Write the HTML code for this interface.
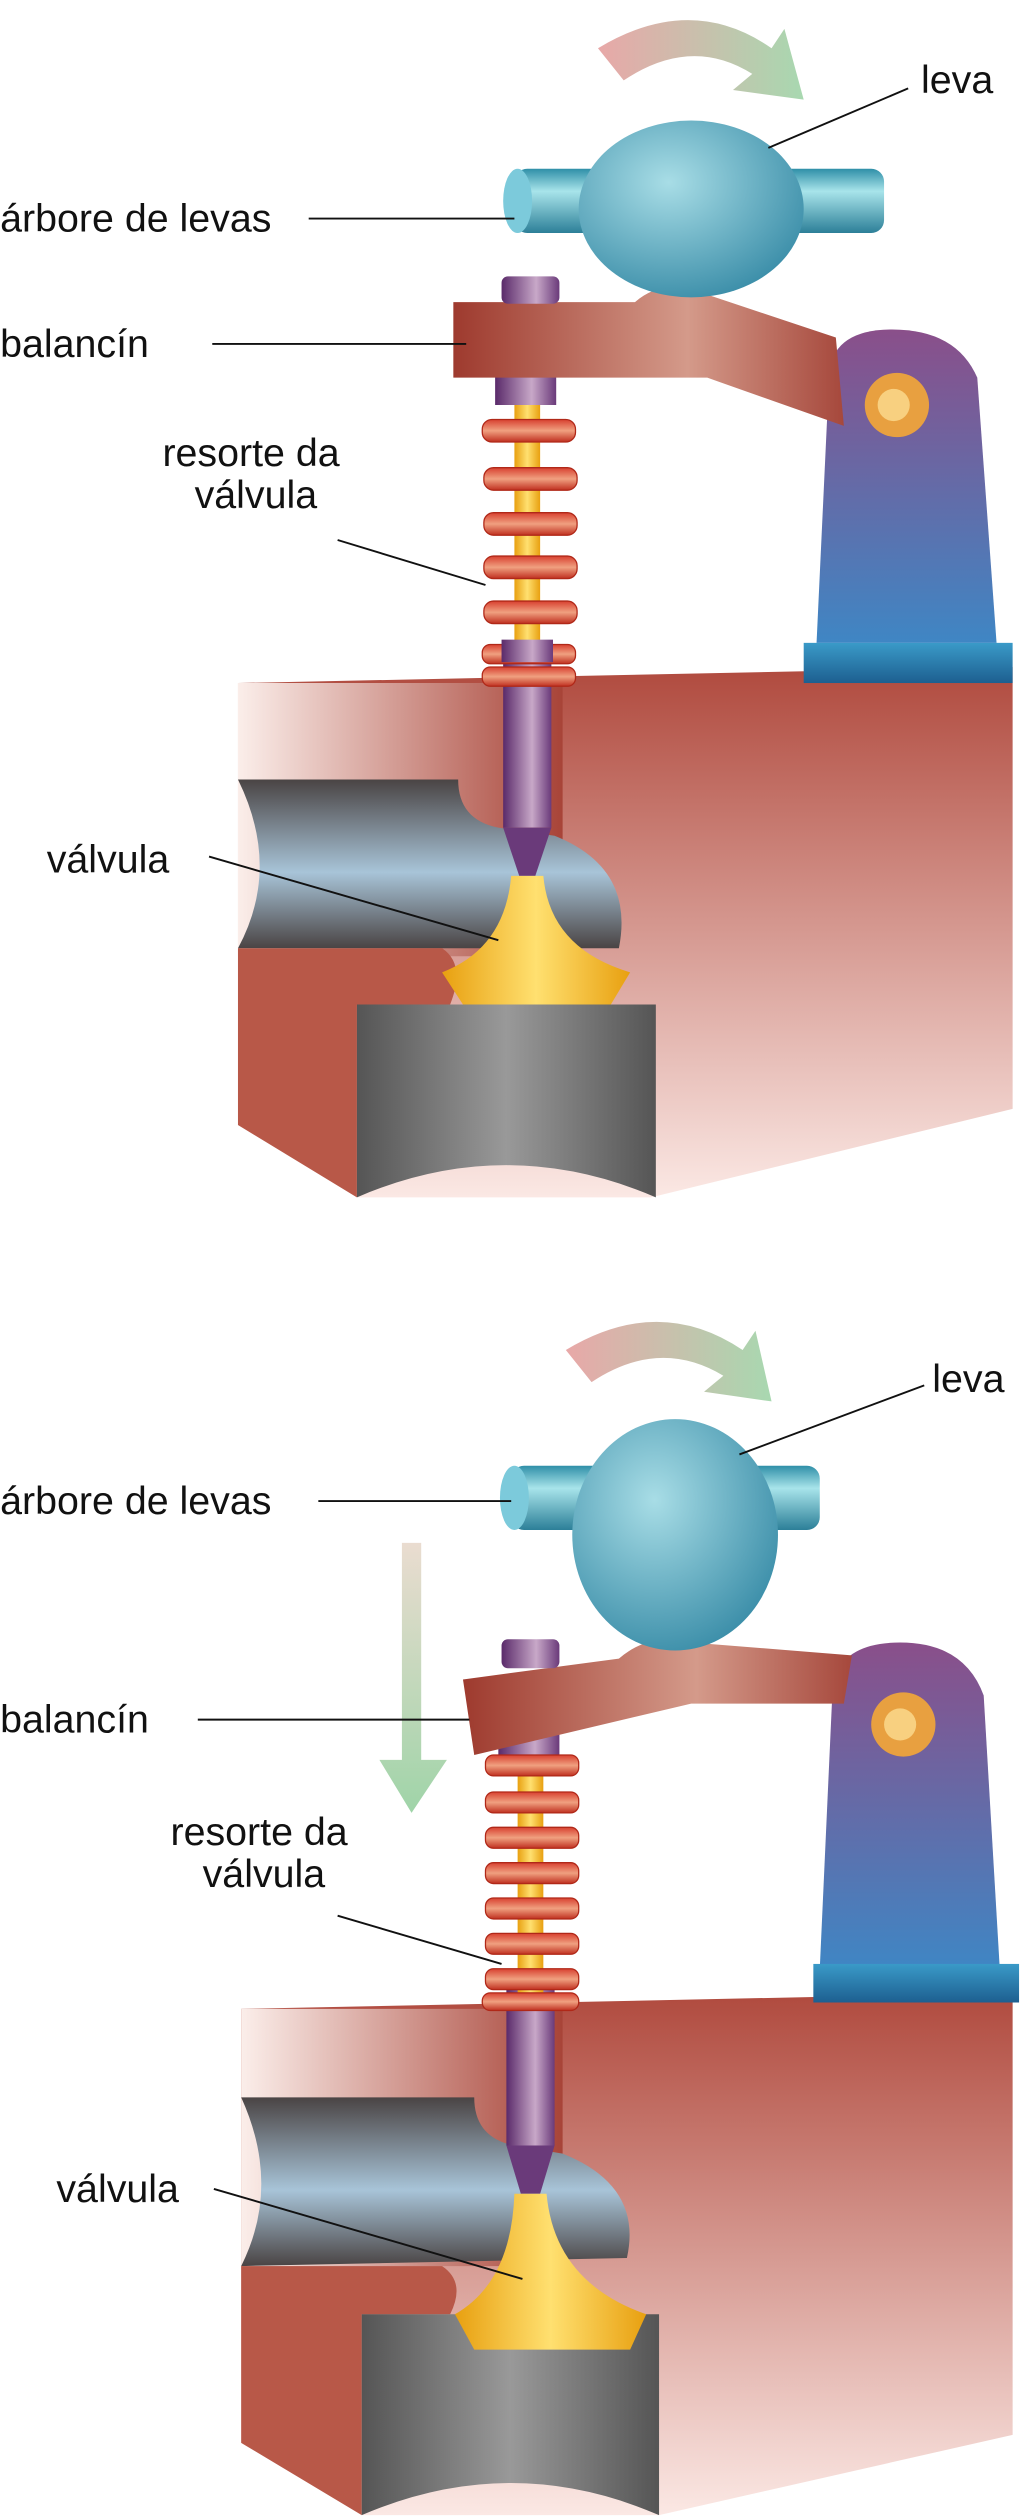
<!DOCTYPE html>
<html><head><meta charset="utf-8"><style>
html,body{margin:0;padding:0;background:#fff;}
svg{display:block}
text{font-family:"Liberation Sans",sans-serif;font-size:24.5px;fill:#111}
</style></head><body>
<svg width="1024" height="2520" viewBox="0 0 637 1568" xmlns="http://www.w3.org/2000/svg">
<defs>
<linearGradient id="arr" x1="0" x2="1"><stop offset="0" stop-color="#e8a8a8"/><stop offset="1" stop-color="#a8d8b0"/></linearGradient>
<linearGradient id="arrv" x1="0" y1="0" x2="0" y2="1"><stop offset="0" stop-color="#eadcd0"/><stop offset="1" stop-color="#9fd4a8"/></linearGradient>
<linearGradient id="cyl" x1="0" y1="0" x2="0" y2="1"><stop offset="0" stop-color="#2f8fa8"/><stop offset="0.35" stop-color="#a8e4ea"/><stop offset="1" stop-color="#2c7f98"/></linearGradient>
<radialGradient id="cam" cx="0.4" cy="0.35" r="0.7"><stop offset="0" stop-color="#a8dde6"/><stop offset="1" stop-color="#3a8da8"/></radialGradient>
<linearGradient id="rock" x1="0" x2="1"><stop offset="0" stop-color="#9e3a2e"/><stop offset="0.6" stop-color="#d49a8a"/><stop offset="1" stop-color="#a6483c"/></linearGradient>
<linearGradient id="brk" x1="0" y1="0" x2="0" y2="1"><stop offset="0" stop-color="#8a4f8a"/><stop offset="1" stop-color="#3f86c4"/></linearGradient>
<linearGradient id="stem" x1="0" x2="1"><stop offset="0" stop-color="#5a2a6a"/><stop offset="0.6" stop-color="#c8a8c8"/><stop offset="1" stop-color="#6a3a7a"/></linearGradient>
<linearGradient id="gold" x1="0" x2="1"><stop offset="0" stop-color="#e8a010"/><stop offset="0.5" stop-color="#ffe070"/><stop offset="1" stop-color="#e8a010"/></linearGradient>
<linearGradient id="coil" x1="0" y1="0" x2="0" y2="1"><stop offset="0" stop-color="#d84030"/><stop offset="0.5" stop-color="#f0a080"/><stop offset="1" stop-color="#c03020"/></linearGradient>
<linearGradient id="blockL" x1="0" x2="1"><stop offset="0" stop-color="#fbeeea"/><stop offset="1" stop-color="#a84438"/></linearGradient>
<linearGradient id="blockR" x1="0" y1="0" x2="0" y2="1"><stop offset="0" stop-color="#b04a3e"/><stop offset="1" stop-color="#fbe8e4"/></linearGradient>
<linearGradient id="port" x1="0" y1="0" x2="0" y2="1"><stop offset="0" stop-color="#4a4444"/><stop offset="0.55" stop-color="#a8c4d8"/><stop offset="1" stop-color="#4a4444"/></linearGradient>
<linearGradient id="cylg" x1="0" x2="1"><stop offset="0" stop-color="#555"/><stop offset="0.5" stop-color="#999"/><stop offset="1" stop-color="#555"/></linearGradient>
<linearGradient id="base" x1="0" y1="0" x2="0" y2="1"><stop offset="0" stop-color="#3a9ac8"/><stop offset="1" stop-color="#1d5f90"/></linearGradient>
</defs>

<g>
<path d="M372,30 Q430,-5 480,30 L488,18 L500,62 L456,56 L468,46 Q430,22 388,50 Z" fill="url(#arr)"/>
<polygon points="148,425 630,415 630,690 405,745 222,745 148,700" fill="url(#blockR)"/>
<polygon points="148,425 350,425 350,595 148,595" fill="url(#blockL)"/>
<path d="M148,485 L285,485 Q285,510 310,515 L345,520 Q395,540 385,590 L148,590 Q175,540 148,485Z" fill="url(#port)"/>
<path d="M148,590 L275,590 Q290,600 280,625 L222,625 L222,745 L148,700Z" fill="#b85848"/>
<path d="M222,625 L408,625 L408,745 Q315,705 222,745Z" fill="url(#cylg)"/>
<rect x="313" y="400" width="30" height="115" fill="url(#stem)"/>
<polygon points="313,515 343,515 333,545 323,545" fill="#6a3a7a"/>
<path d="M318,545 L338,545 Q342,590 392,605 L380,625 L288,625 L275,605 Q314,590 318,545Z" fill="url(#gold)"/>
<rect x="320" y="250" width="16" height="160" fill="url(#gold)"/>
<rect x="308" y="230" width="38" height="22" fill="url(#stem)"/>
<g fill="url(#coil)" stroke="#b02818" stroke-width="0.8">
<rect x="300" y="261" width="58" height="14" rx="6"/><rect x="301" y="291" width="58" height="14" rx="6"/><rect x="301" y="319" width="58" height="14" rx="6"/><rect x="301" y="346" width="58" height="14" rx="6"/><rect x="301" y="374" width="58" height="14" rx="6"/><rect x="300" y="401" width="58" height="12" rx="5"/><rect x="300" y="415" width="58" height="12" rx="5"/>
</g>
<rect x="312" y="398" width="32" height="14" fill="url(#stem)"/>
<path d="M516,230 Q520,205 555,205 Q595,205 608,235 L620,400 L508,400Z" fill="url(#brk)"/>
<rect x="500" y="400" width="130" height="25" fill="url(#base)"/>
<circle cx="558" cy="252" r="20" fill="#e8a040"/><circle cx="556" cy="252" r="10" fill="#f8d080"/>
<path d="M282,188 L395,188 Q410,175 430,180 L520,210 L525,265 L440,235 L282,235Z" fill="url(#rock)"/>
<rect x="312" y="172" width="36" height="17" rx="4" fill="url(#stem)"/>
<rect x="320" y="105" width="230" height="40" rx="8" fill="url(#cyl)"/>
<ellipse cx="322" cy="125" rx="9" ry="20" fill="#7ccadb"/>
<ellipse cx="430" cy="130" rx="70" ry="55" fill="url(#cam)"/>
<text x="573" y="58">leva</text><line x1="565" y1="55" x2="478" y2="92" stroke="#111" stroke-width="1.2"/>
<text x="0" y="144">árbore de levas</text><line x1="192" y1="136" x2="320" y2="136" stroke="#111" stroke-width="1.2"/>
<text x="0" y="222">balancín</text><line x1="132" y1="214" x2="290" y2="214" stroke="#111" stroke-width="1.2"/>
<text x="101" y="290">resorte da</text><text x="121" y="316">válvula</text>
<line x1="210" y1="336" x2="302" y2="364" stroke="#111" stroke-width="1.2"/>
<text x="29" y="543">válvula</text><line x1="130" y1="533" x2="310" y2="585" stroke="#111" stroke-width="1.2"/>
</g>

<g>
<path d="M352,840 Q410,805 462,840 L470,828 L480,872 L438,866 L450,856 Q410,832 368,860 Z" fill="url(#arr)"/>
<polygon points="250,960 262,960 262,1095 278,1095 256,1128 236,1095 250,1095" fill="url(#arrv)"/>
<polygon points="150,1250 630,1240 630,1515 410,1565 225,1565 150,1520" fill="url(#blockR)"/>
<polygon points="150,1250 350,1250 350,1410 150,1410" fill="url(#blockL)"/>
<path d="M150,1305 L295,1305 Q295,1330 320,1335 L350,1340 Q400,1360 390,1405 L150,1410 Q175,1360 150,1305Z" fill="url(#port)"/>
<path d="M150,1410 L275,1410 Q290,1420 280,1440 L225,1440 L225,1565 L150,1520Z" fill="#b85848"/>
<path d="M225,1440 L410,1440 L410,1565 Q318,1525 225,1565Z" fill="url(#cylg)"/>
<rect x="315" y="1235" width="30" height="100" fill="url(#stem)"/>
<polygon points="315,1335 345,1335 336,1365 324,1365" fill="#6a3a7a"/>
<path d="M320,1365 L340,1365 Q345,1420 402,1440 L392,1462 L295,1462 L283,1440 Q318,1420 320,1365Z" fill="url(#gold)"/>
<rect x="322" y="1080" width="16" height="170" fill="url(#gold)"/>
<rect x="310" y="1075" width="38" height="20" fill="url(#stem)"/>
<g fill="url(#coil)" stroke="#b02818" stroke-width="0.8">
<rect x="302" y="1092" width="58" height="13" rx="5"/><rect x="302" y="1115" width="58" height="13" rx="5"/><rect x="302" y="1137" width="58" height="13" rx="5"/><rect x="302" y="1159" width="58" height="13" rx="5"/><rect x="302" y="1181" width="58" height="13" rx="5"/><rect x="302" y="1203" width="58" height="13" rx="5"/><rect x="302" y="1225" width="58" height="13" rx="5"/><rect x="300" y="1240" width="60" height="11" rx="5"/>
</g>
<path d="M518,1050 Q522,1022 560,1022 Q600,1022 612,1055 L622,1225 L510,1225Z" fill="url(#brk)"/>
<rect x="506" y="1222" width="128" height="24" fill="url(#base)"/>
<circle cx="562" cy="1073" r="20" fill="#e8a040"/><circle cx="560" cy="1073" r="10" fill="#f8d080"/>
<path d="M288,1045 L385,1032 Q405,1015 430,1022 L530,1030 L525,1060 L430,1060 L295,1092Z" fill="url(#rock)"/>
<rect x="312" y="1020" width="36" height="18" rx="4" fill="url(#stem)"/>
<rect x="318" y="912" width="192" height="40" rx="8" fill="url(#cyl)"/>
<ellipse cx="320" cy="932" rx="9" ry="20" fill="#7ccadb"/>
<ellipse cx="420" cy="955" rx="64" ry="72" fill="url(#cam)"/>
<text x="580" y="866">leva</text><line x1="575" y1="862" x2="460" y2="905" stroke="#111" stroke-width="1.2"/>
<text x="0" y="942">árbore de levas</text><line x1="198" y1="934" x2="318" y2="934" stroke="#111" stroke-width="1.2"/>
<text x="0" y="1078">balancín</text><line x1="123" y1="1070" x2="292" y2="1070" stroke="#111" stroke-width="1.2"/>
<text x="106" y="1148">resorte da</text><text x="126" y="1174">válvula</text>
<line x1="210" y1="1192" x2="312" y2="1222" stroke="#111" stroke-width="1.2"/>
<text x="35" y="1370">válvula</text><line x1="133" y1="1362" x2="325" y2="1418" stroke="#111" stroke-width="1.2"/>
</g>
</svg>
</body></html>
